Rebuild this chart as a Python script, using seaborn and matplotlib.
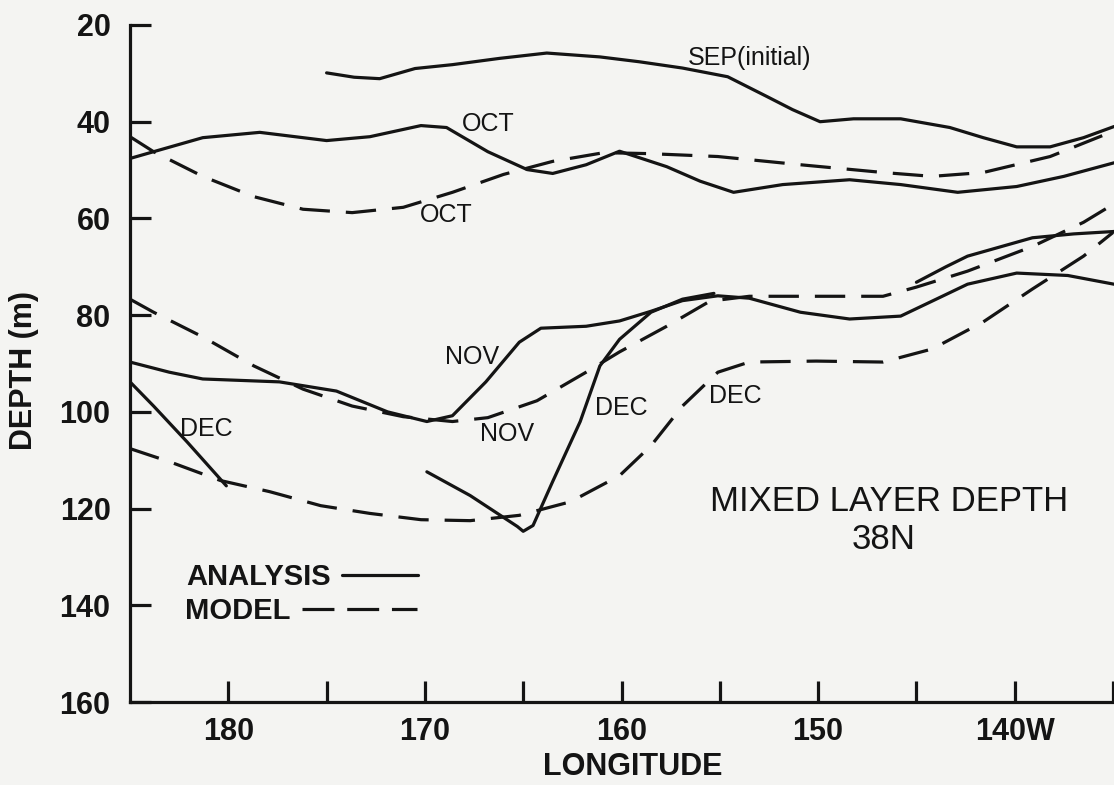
import numpy as np
import pandas as pd
import matplotlib
matplotlib.use("Agg")
import matplotlib.pyplot as plt
from matplotlib.lines import Line2D
import seaborn as sns

# ---------------- data (longitude in degrees, 180 = dateline, >180 = east) ----------------
sep_an_lon = [175.0, 173.6, 172.3, 170.5, 168.6, 166.2, 163.8, 161.1, 159.1, 156.9, 154.6,
              152.6, 151.3, 149.9, 148.2, 145.8, 143.3, 141.6, 139.9, 138.2, 136.5, 134.95]
sep_an_dep = [29.9, 30.8, 31.1, 29.0, 28.2, 26.9, 25.8, 26.6, 27.6, 28.9, 30.7,
              34.8, 37.5, 40.0, 39.4, 39.4, 41.2, 43.3, 45.2, 45.2, 43.3, 41.0]

oct_an_lon = [185.0, 183.8, 181.3, 178.4, 177.0, 175.0, 172.8, 170.2, 168.9, 166.8, 164.8, 163.5,
              161.8, 160.1, 157.7, 156.0, 154.3, 151.8, 148.4, 145.8, 142.9, 139.9, 137.5, 134.95]
oct_an_dep = [47.6, 46.2, 43.3, 42.2, 42.9, 43.9, 43.1, 40.8, 41.2, 46.2, 49.9, 50.7,
              48.9, 46.1, 49.3, 52.3, 54.6, 53.0, 52.0, 53.0, 54.6, 53.4, 51.3, 48.5]

oct_mo_lon = [185.0, 183.8, 181.3, 178.7, 176.2, 173.7, 171.1, 168.6, 166.0, 163.5, 160.9,
              158.6, 155.1, 150.9, 146.7, 144.2, 141.6, 138.2, 135.0]
oct_mo_dep = [43.1, 46.2, 51.3, 55.5, 58.1, 58.8, 57.7, 54.6, 50.9, 48.2, 46.4,
              46.6, 47.2, 48.9, 50.5, 51.3, 50.5, 47.2, 42.0]

nov_an_lon = [185.0, 183.0, 181.3, 177.4, 174.5, 171.9, 169.9, 168.6, 166.9, 165.2, 164.1, 161.8,
              160.1, 158.5, 156.9, 155.1, 153.5, 150.9, 148.4, 145.8, 144.2, 142.4, 139.9, 137.3, 134.95]
nov_an_dep = [89.7, 91.8, 93.2, 93.8, 95.7, 100.0, 102.0, 100.8, 93.8, 85.6, 82.7, 82.3,
              81.2, 79.2, 77.0, 76.0, 76.5, 79.4, 80.8, 80.2, 77.1, 73.6, 71.3, 71.8, 73.6]

nov_mo_lon = [185.0, 183.8, 181.3, 178.7, 176.2, 173.7, 171.1, 168.6, 166.8, 164.3, 161.8,
              160.1, 157.7, 155.5, 153.5, 150.1, 146.7, 145.0, 142.4, 139.1, 136.5, 135.0]
nov_mo_dep = [76.7, 79.4, 84.5, 90.5, 95.3, 98.8, 101.0, 102.0, 101.2, 97.7, 91.8,
              87.6, 82.3, 77.1, 76.1, 76.1, 76.1, 74.2, 70.9, 65.8, 60.8, 57.1]

dec_an1_lon = [185.0, 183.8, 182.1, 180.1]
dec_an1_dep = [93.8, 98.8, 106.2, 115.3]
dec_an2_lon = [169.9, 167.7, 165.3, 165.0, 164.5, 163.5, 162.1, 161.1, 160.1, 158.5, 156.9, 155.3]
dec_an2_dep = [112.4, 117.3, 123.7, 124.7, 123.5, 114.4, 102.0, 90.5, 85.0, 79.4, 76.7, 75.5]
dec_an3_lon = [145.0, 143.5, 142.4, 139.1, 137.0, 134.95]
dec_an3_dep = [73.2, 70.0, 67.8, 64.0, 63.2, 62.7]

dec_mo_lon = [185.0, 183.0, 180.4, 177.9, 175.3, 172.8, 170.2, 167.7, 165.2, 162.6, 160.1,
              158.5, 156.9, 155.1, 153.5, 150.1, 146.7, 144.2, 141.6, 139.1, 136.5, 135.0]
dec_mo_dep = [107.6, 110.3, 114.2, 116.5, 119.4, 121.0, 122.3, 122.5, 121.4, 118.6, 113.2,
              107.0, 98.8, 91.8, 89.7, 89.5, 89.7, 87.0, 81.4, 74.6, 67.8, 62.9]

x_ticks = [180, 175, 170, 165, 160, 155, 150, 145, 140, 135]
x_tick_labels = ["180", "", "170", "", "160", "", "150", "", "140W", ""]
y_ticks = [20, 40, 60, 80, 100, 120, 140, 160]

# ---------------- style ----------------
sns.set_theme(style="ticks")
FONT = ["Liberation Sans", "DejaVu Sans"]
plt.rcParams["font.family"] = FONT
INK = "#141414"
PAPER = "#f4f4f2"
LW = 2.3
DASH = (0, (9.5, 5))

fig = plt.figure(figsize=(11.14, 7.85), dpi=100, facecolor=PAPER)
ax = fig.add_axes([130 / 1114, 1 - 702 / 785, 984 / 1114, 677 / 785])
ax.set_facecolor(PAPER)

solid = [(sep_an_lon, sep_an_dep), (oct_an_lon, oct_an_dep), (nov_an_lon, nov_an_dep),
         (dec_an1_lon, dec_an1_dep), (dec_an2_lon, dec_an2_dep), (dec_an3_lon, dec_an3_dep)]
dashed = [(oct_mo_lon, oct_mo_dep), (nov_mo_lon, nov_mo_dep), (dec_mo_lon, dec_mo_dep)]

for lon, dep in solid:
    sns.lineplot(x=lon, y=dep, ax=ax, color=INK, lw=LW, sort=False, estimator=None,
                 solid_joinstyle="round", solid_capstyle="round")
for lon, dep in dashed:
    sns.lineplot(x=lon, y=dep, ax=ax, color=INK, lw=LW, sort=False, estimator=None,
                 linestyle=DASH, dash_capstyle="butt")

ax.set_xlim(185, 134.95)
ax.set_ylim(160, 20)

ax.set_xticks(x_ticks)
ax.set_xticklabels(x_tick_labels)
ax.set_yticks(y_ticks)
ax.set_yticklabels([str(v) for v in y_ticks])
ax.tick_params(axis="both", which="major", direction="in", length=15, width=LW, color=INK,
               labelsize=22, labelcolor=INK, bottom=True, left=True, top=False, right=False)
ax.tick_params(axis="x", pad=11)
ax.tick_params(axis="y", pad=14)
for lab in ax.get_xticklabels() + ax.get_yticklabels():
    lab.set_fontweight("bold")

for side in ["top", "right"]:
    ax.spines[side].set_visible(False)
for side in ["left", "bottom"]:
    ax.spines[side].set_color(INK)
    ax.spines[side].set_linewidth(LW)

ax.set_xlabel("LONGITUDE", fontsize=22, fontweight="bold", color=INK, va="center")
ax.xaxis.set_label_coords(0.511, -(767 - 702) / 677)
ax.set_ylabel("DEPTH (m)", fontsize=22, fontweight="bold", color=INK, va="center")
ax.yaxis.set_label_coords(-(130 - 24) / 984, 1 - (370 - 25) / 677)

# curve labels
labels = [
    ("SEP(initial)", 153.5, 26.8),
    ("OCT", 166.8, 40.5),
    ("OCT", 168.9, 59.3),
    ("NOV", 167.6, 88.6),
    ("NOV", 165.8, 104.5),
    ("DEC", 181.1, 103.5),
    ("DEC", 160.0, 99.1),
    ("DEC", 154.2, 96.7),
]
for txt, lx, ly in labels:
    ax.text(lx, ly, txt, fontsize=18, color=INK, ha="center", va="center")

ax.text(146.4, 118.6, "MIXED LAYER DEPTH", fontsize=25, color=INK, ha="center", va="center")
ax.text(146.65, 126.4, "38N", fontsize=25, color=INK, ha="center", va="center")

# legend (text first, then line sample)
prop = dict(family=FONT, weight="bold", size=21)
h_an = Line2D([], [], color=INK, lw=LW)
h_mo = Line2D([], [], color=INK, lw=LW, linestyle=(0, (10, 4)))
leg1 = ax.legend([h_an], ["ANALYSIS"], loc="center left",
                 bbox_to_anchor=(186 / 1114, 1 - 577 / 785), bbox_transform=fig.transFigure,
                 markerfirst=False, frameon=False, handlelength=2.6, handletextpad=0.38,
                 borderpad=0, borderaxespad=0, prop=prop, labelcolor=INK)
ax.add_artist(leg1)
leg2 = ax.legend([h_mo], ["MODEL"], loc="center left",
                 bbox_to_anchor=(185 / 1114, 1 - 611 / 785), bbox_transform=fig.transFigure,
                 markerfirst=False, frameon=False, handlelength=3.95, handletextpad=0.38,
                 borderpad=0, borderaxespad=0, prop=prop, labelcolor=INK)

fig.savefig("out.png", dpi=100, facecolor=PAPER)
